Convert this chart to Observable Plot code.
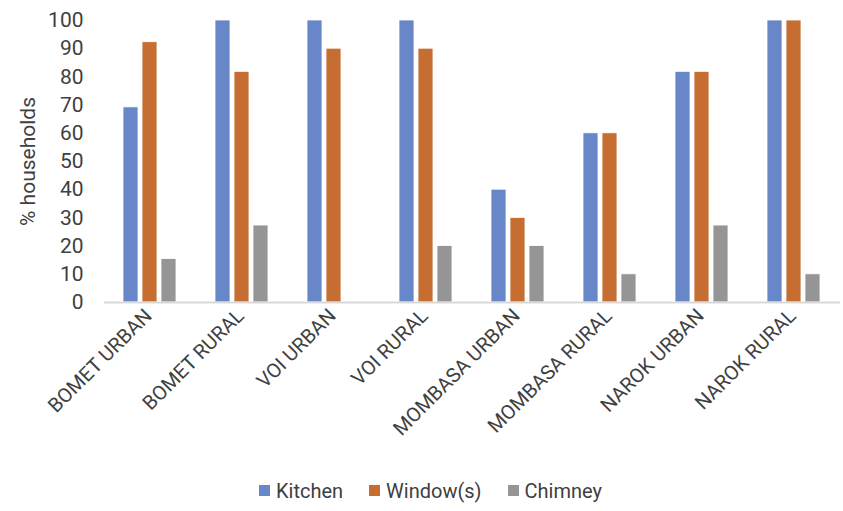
<!DOCTYPE html>
<html>
<head>
<meta charset="utf-8">
<script src="https://cdn.jsdelivr.net/npm/d3@7"></script>
<script src="https://cdn.jsdelivr.net/npm/@observablehq/plot@0.6"></script>
<style>
  body { margin: 0; background: #fff; font-family: Roboto, "Liberation Sans", sans-serif; }
  #chart { width: 843px; }
  .legend { display: flex; justify-content: center; align-items: center; gap: 26px; height: 41px; font-size: 20px; color: #404040; padding-left: 18px; padding-top: 6px; }
  .legend span.item { display: flex; align-items: center; gap: 6px; }
  .legend i { display: inline-block; width: 11px; height: 11px; }
</style>
</head>
<body>
<div id="chart"></div>
<script>
const categories = ["BOMET URBAN", "BOMET RURAL", "VOI URBAN", "VOI RURAL", "MOMBASA URBAN", "MOMBASA RURAL", "NAROK URBAN", "NAROK RURAL"];
const series = ["Kitchen", "Window(s)", "Chimney"];
const colors = ["#6787C9", "#C66D31", "#959595"];
const kitchen = [69.2, 100, 100, 100, 40, 60, 81.8, 100];
const windows = [92.3, 81.8, 90, 90, 30, 60, 81.8, 100];
const chimney = [15.4, 27.3, 0, 20, 20, 10, 27.3, 10];
const yTicks = [0, 10, 20, 30, 40, 50, 60, 70, 80, 90, 100];

const seriesValues = [kitchen, windows, chimney];
const data = [];
categories.forEach((c, i) => {
  series.forEach((s, j) => {
    data.push({category: c, series: s, value: seriesValues[j][i]});
  });
});

const chart = Plot.plot({
  width: 843,
  height: 464,
  marginTop: 20,
  marginBottom: 162,
  marginLeft: 101,
  marginRight: 0,
  style: {fontFamily: "Roboto, 'Liberation Sans', sans-serif", color: "#404040", background: "#fff"},
  fx: {domain: categories, padding: 0, axis: null},
  x: {domain: series, paddingInner: 0.2, paddingOuter: 0.92, axis: null},
  y: {domain: [0, 100]},
  color: {domain: series, range: colors},
  marks: [
    Plot.barY(data.filter(d => d.value > 0), {fx: "category", x: "series", y: "value", fill: "series", stroke: "#ffffff", strokeWidth: 0.8}),
    Plot.ruleY([0], {stroke: "#d9d9d9", strokeWidth: 2}),
    Plot.axisY({ticks: yTicks, tickSize: 0, tickPadding: 21, fontSize: 21, label: "% households", labelAnchor: "center", labelArrow: "none", labelOffset: 84}),
    Plot.axisFx({anchor: "bottom", tickRotate: -45, tickSize: 0, tickPadding: 10, fontSize: 20, label: null, textAnchor: "end", dx: -2})
  ]
});
document.getElementById("chart").appendChild(chart);
d3.select(chart).selectAll("[aria-label='y-axis label'] text").attr("font-size", 21);

const legend = d3.select("body").append("div").attr("class", "legend");
series.forEach((s, j) => {
  const item = legend.append("span").attr("class", "item");
  item.append("i").style("background", colors[j]);
  item.append("span").text(s);
});
</script>
</body>
</html>
